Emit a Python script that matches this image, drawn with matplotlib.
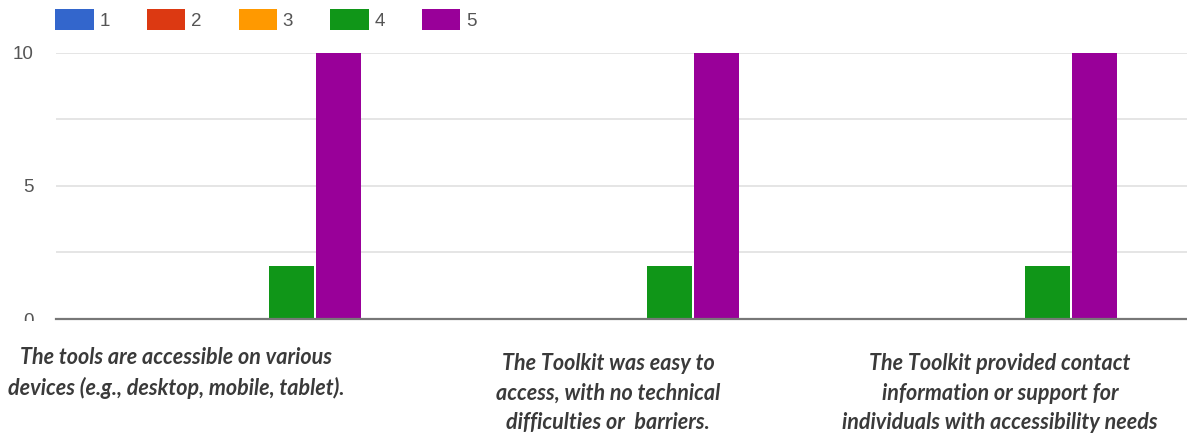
import numpy as np
import matplotlib.pyplot as plt
from matplotlib.transforms import Bbox

# Ratings (1..5) per statement
series = ["1", "2", "3", "4", "5"]
colors = ["#3366cc", "#dc3912", "#ff9900", "#109618", "#990099"]
counts = {
    "1": [0, 0, 0],
    "2": [0, 0, 0],
    "3": [0, 0, 0],
    "4": [2, 2, 2],
    "5": [10, 10, 10],
}
statements = [
    "The tools are accessible on various\ndevices (e.g., desktop, mobile, tablet).",
    "The Toolkit was easy to\naccess, with no technical\ndifficulties or  barriers.",
    "The Toolkit provided contact\ninformation or support for\nindividuals with accessibility needs",
]
yticks = [0, 5, 10]

plt.rcParams["font.family"] = ["Liberation Sans", "DejaVu Sans"]

W, H = 1187, 436
fig = plt.figure(figsize=(W / 100, H / 100), dpi=100)
ax = fig.add_axes([56 / W, (H - 319) / H, (1190 - 56) / W, (319 - 53) / H])

x = np.arange(len(statements))
bw = 0.124
for i, s in enumerate(series):
    ax.bar(x + (i - 2) * bw, counts[s], width=bw * 0.96, color=colors[i],
           label=s, zorder=3)

ax.set_xlim(-0.5, len(statements) - 0.5)
ax.set_ylim(0, 10)
ax.set_yticks(yticks)
ax.set_yticks([2.5, 7.5], minor=True)
ax.grid(axis="y", which="both", color="#e0e0e0", linewidth=1.2, zorder=0)
ax.tick_params(axis="y", which="both", length=0, labelsize=13.5,
               labelcolor="#555555", pad=16)
ax.set_xticks([])
for sp in ["top", "left", "right"]:
    ax.spines[sp].set_visible(False)
ax.spines["bottom"].set_color("#777777")
ax.spines["bottom"].set_linewidth(1.6)
ax.spines["bottom"].set_zorder(4)

# the "0" label is cut off at the baseline in the original
zero_lbl = ax.get_yticklabels()[0]
zero_lbl.set_clip_on(True)
zero_lbl.set_clip_box(Bbox.from_extents(0, H - 321, W, H))

leg = fig.legend(loc="upper left", bbox_to_anchor=(46 / W, 1.0), ncol=5,
                 frameon=False, fontsize=13.5, handlelength=2.05,
                 handleheight=1.3, handletextpad=0.3, columnspacing=1.98,
                 borderaxespad=0.1)
for t in leg.get_texts():
    t.set_color("#555555")

label_pos = [(176, 373), (608, 393), (1000, 393)]
for (px, py), txt in zip(label_pos, statements):
    fig.text(px / W, 1 - py / H, txt, ha="center", va="center",
             fontsize=15.5, fontstyle="italic", fontweight="bold",
             family=["Lato", "DejaVu Sans"], color="#3a3a3a",
             linespacing=1.5)
fig.savefig("out.png", dpi=100)
